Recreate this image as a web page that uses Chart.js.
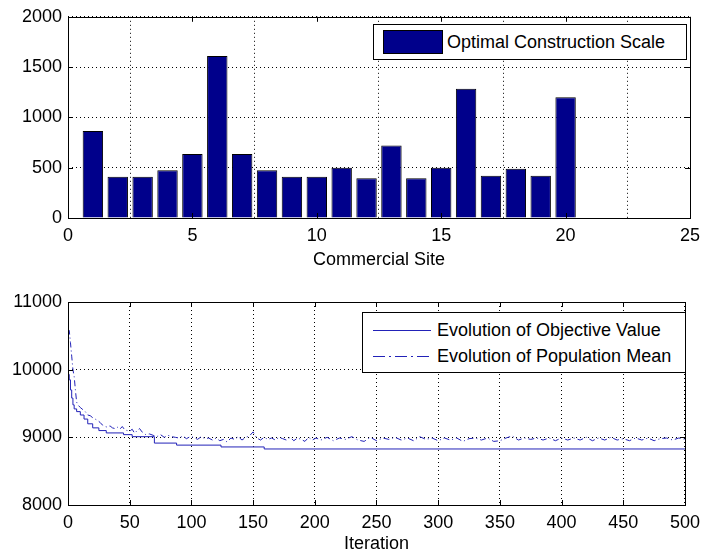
<!DOCTYPE html>
<html>
<head>
<meta charset="utf-8">
<script src="https://cdn.jsdelivr.net/npm/chart.js@4/dist/chart.umd.min.js"></script>
<style>
  html, body { margin: 0; padding: 0; background: #fff; }
  body { width: 707px; height: 559px; position: relative; overflow: hidden; font-family: 'Liberation Sans', Arial, sans-serif; }
  .wrap { position: absolute; left: 0; width: 707px; }
  .legend { position: absolute; background: #fff; border: 1px solid #000; box-sizing: border-box; font-size: 18px; color: #000; }
  .legend .txt { position: absolute; white-space: nowrap; line-height: 20px; }
</style>
</head>
<body>
<div class="wrap" style="top:0;height:280px"><canvas id="c1" width="707" height="280"></canvas></div>
<div class="wrap" style="top:280px;height:279px"><canvas id="c2" width="707" height="279"></canvas></div>

<div class="legend" style="left:373px;top:24px;width:314px;height:36px">
  <div style="position:absolute;left:9px;top:5px;width:60px;height:24px;background:#00008b;border:1px solid #000;box-sizing:border-box"></div>
  <div class="txt" style="left:73px;top:7px">Optimal Construction Scale</div>
</div>

<div class="legend" style="left:362px;top:312px;width:324px;height:61px">
  <svg style="position:absolute;left:10px;top:10px" width="60" height="40">
    <line x1="0" y1="7.5" x2="58" y2="7.5" stroke="#2222b8" stroke-width="1"/>
    <line x1="0" y1="33.5" x2="58" y2="33.5" stroke="#2222b8" stroke-width="1" stroke-dasharray="12,4,2,4"/>
  </svg>
  <div class="txt" style="left:74px;top:7px">Evolution of Objective Value</div>
  <div class="txt" style="left:74px;top:33px">Evolution of Population Mean</div>
</div>

<script>
// ---------- Data: top chart ----------
const sites = [1,2,3,4,5,6,7,8,9,10,11,12,13,14,15,16,17,18,19,20];
const scaleValues = [865,410,410,475,635,1610,635,475,410,410,500,395,720,395,500,1285,420,490,420,1200];
const siteTicks = [0,5,10,15,20,25];
const scaleTicks = [0,500,1000,1500,2000];

// ---------- Data: bottom chart ----------
// Objective value: step changes (iteration where the new value begins, value)
const objIter = [0,1,2,3,4,5,7,10,13,16,20,25,31,45,52,70,88,124,159,500];
const objValue = [9930,9850,9700,9580,9480,9420,9380,9330,9270,9200,9140,9100,9065,9040,9010,8915,8885,8858,8828,8828];

// Population mean
const meanIter = [0,1,2,3,4,5,6,7,8,10,12,14,16,18,20,22,24,26,28,30,32,34,36,38,40,42,44,46,48,50,52,54,56,58,60,
  63,66,69,72,75,78,81,84,87,90,93,96,99,102,105,108,111,114,117,120,123,126,129,132,135,138,141,144,147,150,153,156,159,
  162,165,168,171,174,177,180,183,186,189,192,195,198,201,
  205,210,215,220,225,230,235,240,245,250,255,260,265,270,275,280,285,290,295,300,305,310,315,320,325,330,335,340,345,350,
  355,360,365,370,375,380,385,390,395,400,405,410,415,420,425,430,435,440,445,450,455,460,465,470,475,480,485,490,495,500];
const meanValue = [10600,10580,10400,10200,10000,9900,9700,9520,9480,9440,9410,9380,9330,9320,9290,9270,9250,9220,9180,9160,9150,9170,9140,9130,9150,9120,9160,9110,9100,9090,9120,9060,9100,9130,9080,
  9040,9050,9030,9010,9040,9000,9030,9010,9000,8990,9020,8980,9010,9000,8970,9010,8980,8990,8960,8990,8950,8970,8930,8990,8970,9010,8960,9000,9020,9080,8990,8960,9000,
  8970,8990,8960,9000,8980,8960,9000,8950,8990,8970,8940,9000,8960,8990,
  8960,9000,8950,8990,8970,9010,8960,8940,9000,8950,8990,8970,9000,8960,8990,8950,9010,8970,8990,8950,8990,8960,8990,8940,8980,8990,8960,8990,8940,8950,
  8990,9020,8960,8990,8970,8990,8960,8990,8950,8990,8960,8990,8960,9000,8950,8990,8960,9000,8960,8980,8950,8990,8960,8990,8950,8980,8990,8960,8990,8970];
const iterTicks = [0,50,100,150,200,250,300,350,400,450,500];
const objTicks = [8000,9000,10000,11000];

// ---------- Helpers ----------
const FONT = { family: "'Liberation Sans', Arial, sans-serif", size: 18 };
Chart.defaults.color = '#000';

const boxPlugin = {
  id: 'matlabBox',
  afterDatasetsDraw(chart) {
    const { ctx, chartArea: a, scales } = chart;
    ctx.save();
    ctx.strokeStyle = '#000';
    ctx.lineWidth = 1;
    const L = 5;
    ctx.beginPath();
    scales.x.ticks.forEach(t => {
      const px = Math.round(scales.x.getPixelForValue(t.value)) + 0.5;
      ctx.moveTo(px, a.bottom); ctx.lineTo(px, a.bottom - L);
      ctx.moveTo(px, a.top); ctx.lineTo(px, a.top + L);
    });
    scales.y.ticks.forEach(t => {
      const py = Math.round(scales.y.getPixelForValue(t.value)) + 0.5;
      ctx.moveTo(a.left, py); ctx.lineTo(a.left + L, py);
      ctx.moveTo(a.right, py); ctx.lineTo(a.right - L, py);
    });
    ctx.stroke();
    ctx.strokeRect(Math.round(a.left) + 0.5, Math.round(a.top) + 0.5, Math.round(a.right - a.left), Math.round(a.bottom - a.top));
    ctx.restore();
  }
};

function fixedTicks(list) {
  return function(scale) { scale.ticks = list.map(v => ({ value: v })); };
}
const plain = v => String(v);

function axisX(min, max, ticks, title, height, titlePad) {
  return {
    type: 'linear', min, max, offset: false,
    afterBuildTicks: fixedTicks(ticks),
    afterFit: s => { s.height = height; },
    grid: { color: '#000', lineWidth: 1, drawTicks: false },
    border: { display: false, dash: [1, 3] },
    ticks: { font: FONT, padding: 7, maxRotation: 0, autoSkip: false, callback: plain },
    title: { display: true, text: title, font: FONT, padding: { top: 0, bottom: titlePad } }
  };
}
function axisY(min, max, ticks) {
  return {
    type: 'linear', min, max,
    afterBuildTicks: fixedTicks(ticks),
    afterFit: s => { s.width = 68; },
    grid: { color: '#000', lineWidth: 1, drawTicks: false },
    border: { display: false, dash: [1, 3] },
    ticks: { font: FONT, padding: 6, autoSkip: false, callback: plain }
  };
}

// ---------- Top chart ----------
new Chart(document.getElementById('c1'), {
  type: 'bar',
  data: {
    datasets: [{
      label: 'Optimal Construction Scale',
      data: sites.map((s, i) => ({ x: s, y: scaleValues[i] })),
      backgroundColor: '#00008b',
      borderColor: '#000',
      borderWidth: 1,
      barPercentage: 0.82,
      categoryPercentage: 1.0
    }]
  },
  options: {
    responsive: false, animation: false,
    layout: { padding: { top: 15, right: 14, left: 0, bottom: 0 } },
    plugins: { legend: { display: false }, tooltip: { enabled: false } },
    scales: {
      x: axisX(0, 25, siteTicks, 'Commercial Site', 62, 9),
      y: axisY(0, 2000, scaleTicks)
    }
  },
  plugins: [boxPlugin]
});

// ---------- Bottom chart ----------
new Chart(document.getElementById('c2'), {
  type: 'line',
  data: {
    datasets: [{
      label: 'Evolution of Objective Value',
      data: objIter.map((x, i) => ({ x, y: objValue[i] })),
      borderColor: '#2222b8', borderWidth: 1, pointRadius: 0, stepped: 'before', fill: false
    }, {
      label: 'Evolution of Population Mean',
      data: meanIter.map((x, i) => ({ x, y: meanValue[i] })),
      borderColor: '#2222b8', borderWidth: 1, pointRadius: 0, borderDash: [6, 3, 1, 3], tension: 0, fill: false
    }]
  },
  options: {
    responsive: false, animation: false,
    layout: { padding: { top: 22, right: 14, left: 0, bottom: 0 } },
    plugins: { legend: { display: false }, tooltip: { enabled: false } },
    scales: {
      x: axisX(0, 500, iterTicks, 'Iteration', 54, 4),
      y: axisY(8000, 11000, objTicks)
    }
  },
  plugins: [boxPlugin]
});
</script>
</body>
</html>
